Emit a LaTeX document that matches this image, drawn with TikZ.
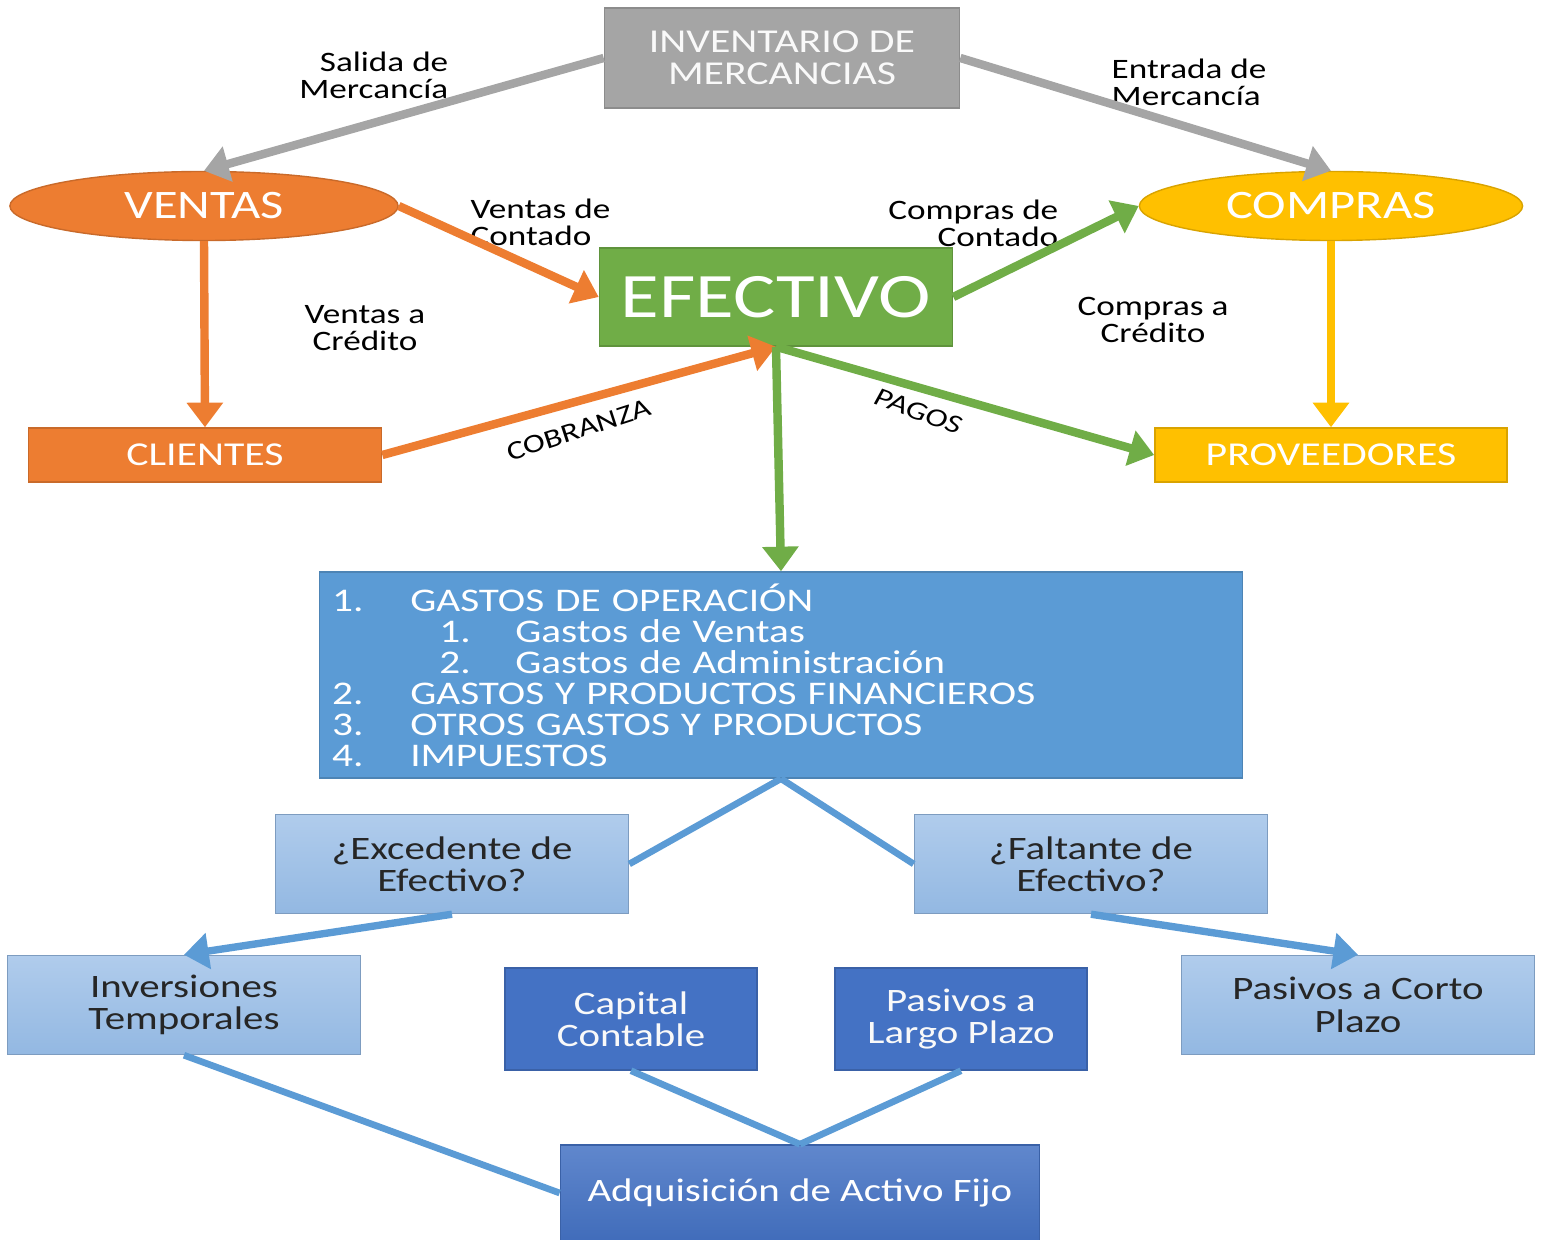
\documentclass[tikz,border=0pt]{standalone}
\usepackage{fontspec}
\setmainfont{Carlito}[FakeStretch=1.25]
\usepackage{tikz}
\usetikzlibrary{arrows.meta, shapes.geometric}

\definecolor{invgray}{HTML}{A5A5A5}
\definecolor{vorange}{HTML}{ED7D31}
\definecolor{cyellow}{HTML}{FFC000}
\definecolor{egreen}{HTML}{70AD47}
\definecolor{lblue}{HTML}{5B9BD5}
\definecolor{dblue}{HTML}{4472C4}
\definecolor{paletop}{HTML}{B0CCEC}
\definecolor{palebot}{HTML}{93B8E2}

\newcommand{\itm}[2]{\makebox[0.78cm][l]{#1}#2}
\newcommand{\subitm}[2]{\hspace*{1.07cm}\makebox[0.76cm][l]{#1}#2}

\begin{document}
\begin{tikzpicture}[
    x=0.01cm, y=-0.01cm, >={Triangle[width=10pt,length=7pt]},
    inv/.style   ={rectangle, draw=invgray!85!black, fill=invgray, text=white!95!gray, minimum width=3.55cm, minimum height=1.0cm, align=center, font=\fontsize{9.5}{9}\selectfont},
    venta/.style ={ellipse, draw=vorange!85!black, fill=vorange, text=white, minimum width=3.88cm, minimum height=0.69cm, inner sep=0pt, font=\fontsize{11.5}{12}\selectfont},
    compra/.style={ellipse, draw=cyellow!85!black, fill=cyellow, text=white, minimum width=3.83cm, minimum height=0.69cm, inner sep=0pt, font=\fontsize{11.5}{12}\selectfont},
    cash/.style  ={rectangle, draw=egreen!85!black, fill=egreen, text=white, minimum width=3.53cm, minimum height=0.98cm, font=\fontsize{18}{18}\selectfont},
    cli/.style   ={rectangle, draw=vorange!85!black, fill=vorange, text=white, minimum width=3.53cm, minimum height=0.54cm, font=\fontsize{9.5}{10}\selectfont},
    prov/.style  ={rectangle, draw=cyellow!85!black, fill=cyellow, text=white, minimum width=3.52cm, minimum height=0.54cm, font=\fontsize{9.5}{10}\selectfont},
    gasto/.style ={rectangle, draw=lblue!85!black, fill=lblue, text=white, text width=8.97cm, inner xsep=0.13cm, minimum height=2.03cm, align=left, font=\fontsize{9.4}{8.8}\selectfont},
    pale/.style  ={rectangle, draw=palebot!85!black, top color=paletop, bottom color=palebot, text=black!85, minimum width=3.53cm, minimum height=0.99cm, align=center, font=\fontsize{9.3}{9.2}\selectfont},
    deep/.style  ={rectangle, draw=dblue!85!black, fill=dblue, text=white!95!gray, minimum width=2.52cm, minimum height=1.02cm, align=center, font=\fontsize{9.3}{9.2}\selectfont},
    fijo/.style  ={rectangle, draw=dblue!85!black, top color=dblue!85!white, bottom color=dblue!95!black, text=white, minimum width=4.79cm, minimum height=0.96cm, font=\fontsize{9.3}{9.2}\selectfont},
    lbl/.style   ={inner sep=0pt, text=black, font=\fontsize{8}{7.6}\selectfont},
    flow/.style  ={line width=2.4pt},
]
\useasboundingbox (0,0) rectangle (1541,1240);

% top row
\node[inv]    (inv) at (782,58)   {INVENTARIO DE\\MERCANCIAS};
\node[venta]  (ven) at (204,206)  {VENTAS};
\node[compra] (com) at (1331,206) {COMPRAS};
\node[cash]   (efe) at (776,297)  {EFECTIVO};
\node[cli]    (cli) at (205,455)  {CLIENTES};
\node[prov]   (pro) at (1331,455) {PROVEEDORES};

% gastos
\node[gasto] (gas) at (781,675) {\itm{1.}{GASTOS DE OPERACIÓN}\\
  \subitm{1.}{Gastos de Ventas}\\
  \subitm{2.}{Gastos de Administración}\\
  \itm{2.}{GASTOS Y PRODUCTOS FINANCIEROS}\\
  \itm{3.}{OTROS GASTOS Y PRODUCTOS}\\
  \itm{4.}{IMPUESTOS}};

% excedente / faltante
\node[pale] (exc)  at (452,864)  {¿Excedente de\\Efectivo?};
\node[pale] (fal)  at (1091,864) {¿Faltante de\\Efectivo?};
\node[pale] (tmp)  at (184,1005) {Inversiones\\Temporales};
\node[pale] (cor)  at (1358,1005) {Pasivos a Corto\\Plazo};
\node[deep] (cap)  at (631,1019) {Capital\\Contable};
\node[deep] (lar)  at (961,1019) {Pasivos a\\Largo Plazo};
\node[fijo] (adq)  at (800,1193) {Adquisición de Activo Fijo};

% labels
\node[lbl, align=right, anchor=east] (sal) at (449,75)  {Salida de\\Mercancía};
\node[lbl, align=left,  anchor=west] (ent) at (1111,82) {Entrada de\\Mercancía};
\node[lbl, align=left,  anchor=west] (vdc) at (470,222) {Ventas de\\Contado};
\node[lbl, align=right, anchor=east] (cdc) at (1059,223) {Compras de\\Contado};
\node[lbl, align=center] (vac) at (365,328)  {Ventas a\\Crédito};
\node[lbl, align=center] (cac) at (1153,320) {Compras a\\Crédito};

% flows
\draw[->,flow,draw=invgray] (inv.west) -- (ven.north);
\draw[->,flow,draw=invgray] (inv.east) -- (com.north);
\draw[->,flow,draw=vorange] (ven.east) -- (efe.west);
\draw[->,flow,draw=vorange] (ven.south) -- (cli.north);
\draw[->,flow,draw=vorange] (cli.east) -- node[pos=0.48, below=1pt, rotate=18, text=black, font=\fontsize{7.5}{8}\selectfont] {COBRANZA} (efe.south);
\draw[->,flow,draw=egreen] (efe.east) -- (com.west);
\draw[->,flow,draw=egreen] (efe.south) -- node[pos=0.39, below=2pt, rotate=-20, text=black, inner sep=1pt, font=\fontsize{7.5}{8}\itshape] {PAGOS} (pro.west);
\draw[->,flow,draw=egreen] (efe.south) -- (gas.north);
\draw[->,flow,draw=cyellow] (com.south) -- (pro.north);

\draw[flow,draw=lblue,line width=1.9pt] (gas.south) -- (exc.east);
\draw[flow,draw=lblue,line width=1.9pt] (gas.south) -- (fal.west);
\draw[->,flow,draw=lblue,line width=2.1pt] (exc.south) -- (tmp.north);
\draw[->,flow,draw=lblue,line width=2.1pt] (fal.south) -- (cor.north);
\draw[flow,draw=lblue,line width=1.9pt] (tmp.south) -- (adq.west);
\draw[flow,draw=lblue,line width=1.9pt] (cap.south) -- (adq.north);
\draw[flow,draw=lblue,line width=1.9pt] (lar.south) -- (adq.north);
\end{tikzpicture}
\end{document}
